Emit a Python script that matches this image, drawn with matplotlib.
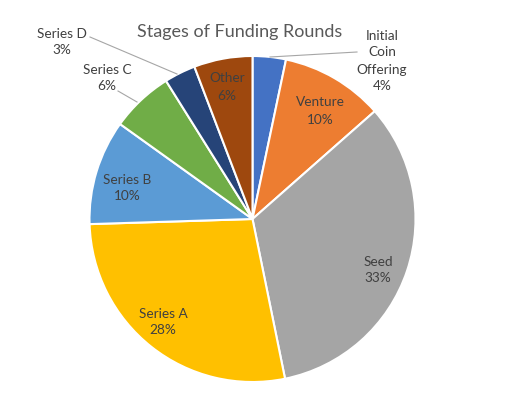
import matplotlib
matplotlib.use("Agg")
import matplotlib.pyplot as plt

title = "Stages of Funding Rounds"
categories = ["Initial\nCoin\nOffering", "Venture", "Seed", "Series A", "Series B",
              "Series C", "Series D", "Other"]
values = [3.3, 10.2, 33.3, 27.7, 10.4, 6.2, 3.1, 5.8]
pct_labels = ["4%", "10%", "33%", "28%", "10%", "6%", "3%", "6%"]
colors = ["#4472C4", "#ED7D31", "#A5A5A5", "#FFC000", "#5B9BD5",
          "#70AD47", "#264478", "#9E480E"]

W, H = 531, 394
fig = plt.figure(figsize=(W / 100, H / 100), dpi=100)
cx, cy, r = 252.5, 219.0, 163.0
ax = fig.add_axes([(cx - r) / W, (H - cy - r) / H, 2 * r / W, 2 * r / H])
ax.axis("off")

wedges, _ = ax.pie(values, colors=colors, startangle=90, counterclock=False,
                   radius=1.0, center=(0, 0),
                   wedgeprops=dict(edgecolor="white", linewidth=1.5))
ax.set_xlim(-1, 1)
ax.set_ylim(-1, 1)

def px2data(px, py):
    return (px - cx) / r, (cy - py) / r

# label centers in pixel coordinates of the reference
label_px = [(382, 61), (320, 111), (378, 270), (163, 322), (127, 188),
            (107, 78), (62, 42), (227, 87)]
font = "Lato"
for cat, p, (px, py) in zip(categories, pct_labels, label_px):
    x, y = px2data(px, py)
    ax.text(x, y, f"{cat}\n{p}", ha="center", va="center", fontsize=9.8,
            color="#404040", family=font, linespacing=1.5, clip_on=False)

# leader lines
leaders = [((270, 57), (357, 52)), ((118, 91), (137, 102)), ((90, 37), (177, 74))]
for (a, b) in leaders:
    x0, y0 = px2data(*a)
    x1, y1 = px2data(*b)
    ax.plot([x0, x1], [y0, y1], color="#A6A6A6", lw=0.8, clip_on=False)

fig.text(240 / W, 1 - 32 / H, title, ha="center", va="center", fontsize=13,
         color="#595959", family=font)

fig.savefig("out.png", dpi=100)
